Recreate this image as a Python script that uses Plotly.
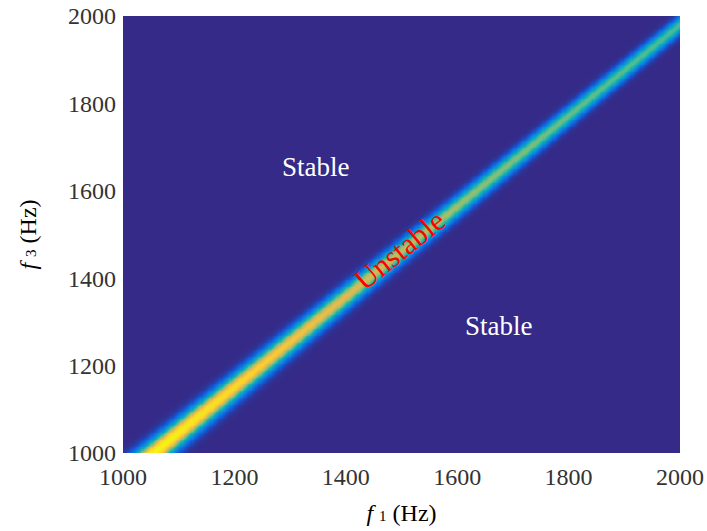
import numpy as np
import plotly.graph_objects as go

# ---- data ----
# stability band: for each f3 level, centre of the unstable ridge in f1,
# its horizontal spread (Hz) and its peak intensity (normalised)
f3_levels = [1000, 1200, 1400, 1600, 1800, 2000]
band_center_f1 = [1055, 1248, 1441, 1635, 1828, 2020]
band_sigma = [21, 19, 17, 15.5, 14, 13]
band_peak = [0.97, 0.80, 0.68, 0.57, 0.51, 0.47]

tick_vals = [1000, 1200, 1400, 1600, 1800, 2000]
tick_text = ["1000", "1200", "1400", "1600", "1800", "2000"]

labels_text = ["Stable", "Stable", "Unstable"]
labels_f1 = [1346, 1675, 1497]
labels_f3 = [1654, 1291, 1465]

# ---- build the intensity map ----
f1 = np.linspace(1000, 2000, 501)
f3 = np.linspace(1000, 2000, 501)
c = np.interp(f3, f3_levels, band_center_f1)
s = np.interp(f3, f3_levels, band_sigma)
p = np.interp(f3, f3_levels, band_peak)
Z = p[:, None] * np.exp(-0.5 * ((f1[None, :] - c[:, None]) / s[:, None]) ** 2)

parula = [
    [0.00, "rgb(53,42,135)"],
    [0.10, "rgb(15,92,221)"],
    [0.20, "rgb(18,125,216)"],
    [0.30, "rgb(7,156,207)"],
    [0.40, "rgb(21,177,180)"],
    [0.50, "rgb(89,189,140)"],
    [0.60, "rgb(165,190,107)"],
    [0.70, "rgb(225,185,82)"],
    [0.80, "rgb(252,206,46)"],
    [0.90, "rgb(245,230,30)"],
    [1.00, "rgb(249,251,14)"],
]

fig = go.Figure(go.Heatmap(x=f1, y=f3, z=Z, colorscale=parula, zmin=0, zmax=1,
                           showscale=False, hoverinfo="skip"))

serif = "Liberation Serif, Times New Roman, serif"
tick_col = "#333333"

fig.update_layout(
    width=707, height=531,
    margin=dict(l=123, r=27, t=16, b=78),
    paper_bgcolor="white", plot_bgcolor="white",
    font=dict(family=serif, color=tick_col),
    xaxis=dict(range=[1000, 2000], tickvals=tick_vals, ticktext=tick_text,
               showgrid=False, zeroline=False, ticks="", showline=False,
               automargin=False, ticklabelstandoff=7,
               tickfont=dict(size=24, family=serif, color=tick_col),
               title=dict(text="<i>f</i> <span style='font-size:15px'>1</span> (Hz)",
                          font=dict(size=24, family=serif, color="black"),
                          standoff=15)),
    yaxis=dict(range=[1000, 2000], tickvals=tick_vals, ticktext=tick_text,
               showgrid=False, zeroline=False, ticks="", showline=False,
               automargin=False, ticklabelstandoff=6,
               tickfont=dict(size=24, family=serif, color=tick_col),
               title=dict(text="<i>f</i> <span style='font-size:15px'>3</span> (Hz)",
                          font=dict(size=24, family=serif, color="black"),
                          standoff=24)),
)

colors = ["white", "white", "red"]
angles = [0, 0, -39]
sizes = [27, 27, 30]
for t, xv, yv, col, ang, sz in zip(labels_text, labels_f1, labels_f3, colors, angles, sizes):
    fig.add_annotation(x=xv, y=yv, text=t, showarrow=False, textangle=ang,
                       font=dict(size=sz, family=serif, color=col))

fig.write_html("out.html", config={"displayModeBar": False},
               post_script="document.body.style.margin='0';")
